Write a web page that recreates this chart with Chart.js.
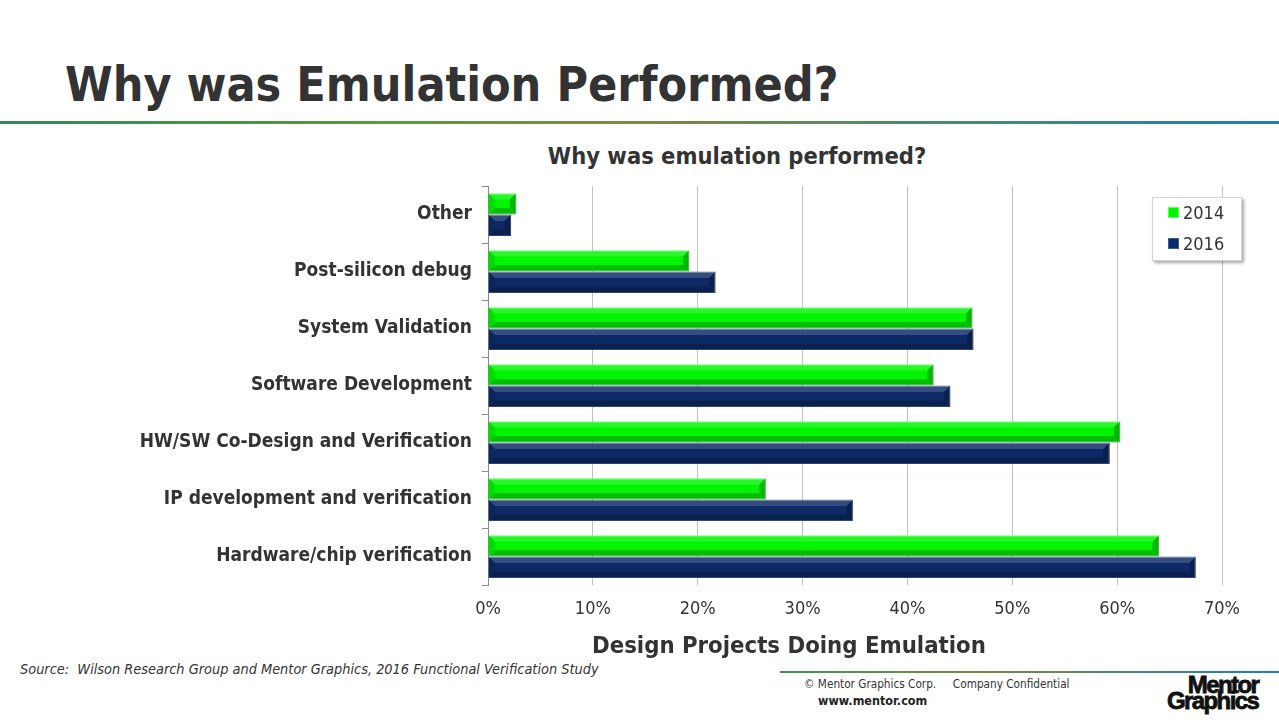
<!DOCTYPE html>
<html>
<head>
<meta charset="utf-8">
<script src="https://cdn.jsdelivr.net/npm/chart.js@4.4.0/dist/chart.umd.min.js"></script>
<style>
  body { margin: 0; width: 1279px; height: 720px; background: #fff; position: relative; overflow: hidden;
         font-family: 'DejaVu Sans Condensed', 'DejaVu Sans', sans-serif; color: #333; }
  .abs { position: absolute; white-space: nowrap; }
  #pageTitle { left: 65px; top: 55px; font-size: 48px; font-weight: bold; line-height: 58px; }
  #topLine { left: 0; top: 121px; width: 1279px; height: 3px;
             background: linear-gradient(to right, #2e8b5a, #5a9a3a 30%, #7a8a3e 50%, #4a8a70 75%, #1a80b4); }
  #chartTitle { left: 737px; top: 142px; transform: translateX(-50%); font-size: 23.5px; font-weight: bold; }
  #chartBox { left: 100px; top: 135px; width: 1174px; height: 500px; }
  #xTitle { left: 592px; top: 631px; font-size: 23.7px; font-weight: bold; }
  #legend { left: 1152px; top: 197px; width: 88px; height: 62px; background: #fff;
            border: 1px solid #d4d4d4; box-shadow: 2px 2px 3px rgba(0,0,0,0.35); }
  .item { position: absolute; left: 15px; font-size: 18px; line-height: 20px; }
  .item span { display: inline-block; width: 9px; height: 9px; margin-right: 4px; vertical-align: 1px; }
  #source { left: 20px; top: 661px; font-size: 14.4px; font-style: italic; }
  #footLine { left: 780px; top: 671px; width: 499px; height: 2px;
              background: linear-gradient(to right, #3a9a50, #7a8a3e 40%, #1a80b4); }
  #copy { left: 804px; top: 677px; font-size: 11.7px; }
  #web { left: 818px; top: 693px; font-size: 12.5px; font-weight: bold; color: #222; }
  #logo { left: 1167px; top: 677px; font-family: 'Liberation Sans', Arial, sans-serif; font-weight: bold;
          font-size: 24px; line-height: 16px; color: #111; letter-spacing: -1.6px; text-align: right;
          -webkit-text-stroke: 0.8px #111; }
</style>
</head>
<body>
<div id="pageTitle" class="abs">Why was Emulation Performed?</div>
<div id="topLine" class="abs"></div>
<div id="chartTitle" class="abs">Why was emulation performed?</div>
<div id="chartBox" class="abs"><canvas id="chart"></canvas></div>
<div id="xTitle" class="abs">Design Projects Doing Emulation</div>
<div id="legend" class="abs"></div>
<div id="source" class="abs">Source:&nbsp; Wilson Research Group and Mentor Graphics, 2016 Functional Verification Study</div>
<div id="footLine" class="abs"></div>
<div id="copy" class="abs">© Mentor Graphics Corp.&nbsp;&nbsp;&nbsp;&nbsp; Company Confidential</div>
<div id="web" class="abs">www.mentor.com</div>
<div id="logo" class="abs">&nbsp;Mentor<br>Graphics</div>
<script>
let categories = ['Other', 'Post-silicon debug', 'System Validation', 'Software Development',
                  'HW/SW Co-Design and Verification', 'IP development and verification', 'Hardware/chip verification'];
let seriesNames = ['2014', '2016'];
let values2014 = [2.7, 19.2, 46.2, 42.5, 60.3, 26.5, 64.0];
let values2016 = [2.2, 21.7, 46.3, 44.1, 59.3, 34.8, 67.5];
let xTicks = [0, 10, 20, 30, 40, 50, 60, 70];

let fillColors = ['#00f500', '#0e2a66'];
let edgeColors = ['#5cff5c', '#3a5a9a'];
let fontFam = "'DejaVu Sans Condensed', 'DejaVu Sans', sans-serif";

// picture-frame bevel drawn over each bar (light top, dark bottom and ends)
let bevel = {
    id: 'bevel',
    afterDatasetsDraw(chart) {
        let ctx = chart.ctx;
        chart.data.datasets.forEach(function(ds, i) {
            chart.getDatasetMeta(i).data.forEach(function(bar) {
                let p = bar.getProps(['x', 'y', 'base', 'height'], true);
                let t = p.y - p.height / 2, h = p.height, l = p.base, r = p.x;
                let b = Math.min(h * 0.3, (r - l) / 2);
                function quad(pts, col) {
                    ctx.fillStyle = col;
                    ctx.beginPath();
                    ctx.moveTo(pts[0], pts[1]);
                    for (let k = 2; k < pts.length; k += 2) ctx.lineTo(pts[k], pts[k + 1]);
                    ctx.closePath();
                    ctx.fill();
                }
                ctx.save();
                quad([l, t, r, t, r - b, t + b, l + b, t + b], 'rgba(255,255,255,0.16)');
                quad([l, t + h, r, t + h, r - b, t + h - b, l + b, t + h - b], 'rgba(0,0,0,0.22)');
                quad([l, t, l + b, t + b, l + b, t + h - b, l, t + h], 'rgba(0,0,0,0.1)');
                quad([r, t, r, t + h, r - b, t + h - b, r - b, t + b], 'rgba(0,0,0,0.25)');
                ctx.restore();
            });
        });
    }
};

let chart = new Chart(document.getElementById('chart'), {
    type: 'bar',
    data: {
        labels: categories,
        datasets: [
            { label: seriesNames[0], data: values2014, backgroundColor: fillColors[0], borderColor: edgeColors[0], borderWidth: 1 },
            { label: seriesNames[1], data: values2016, backgroundColor: fillColors[1], borderColor: edgeColors[1], borderWidth: 1 }
        ]
    },
    options: {
        indexAxis: 'y',
        responsive: true,
        maintainAspectRatio: false,
        animation: false,
        categoryPercentage: 0.75,
        barPercentage: 1,
        layout: { padding: { top: 51, right: 52, bottom: 0 } },
        plugins: {
            legend: { display: false },
            tooltip: { enabled: false }
        },
        scales: {
            x: {
                min: 0, max: 70,
                afterBuildTicks(s) { s.ticks = xTicks.map(function(v) { return { value: v }; }); },
                afterFit(s) { s.height = 50; },
                ticks: { callback: function(v) { return v + '%'; }, color: '#333', padding: 14,
                         font: { family: fontFam, size: 18 } },
                grid: { color: '#c0c0c0', lineWidth: 1, tickLength: 0 },
                border: { display: false }
            },
            y: {
                afterFit(s) { s.width = 388; },
                ticks: { color: '#333', padding: 10,
                         font: { family: fontFam, size: 19, weight: 'bold' } },
                grid: { offset: true, drawOnChartArea: false, color: '#8a8a8a', tickLength: 6 },
                border: { display: true, color: '#8a8a8a', width: 1 }
            }
        }
    },
    plugins: [bevel]
});

let legendBox = document.getElementById('legend');
seriesNames.forEach(function(name, i) {
    let d = document.createElement('div');
    d.className = 'item';
    d.style.top = (5 + i * 31) + 'px';
    d.innerHTML = '<span style="background:' + fillColors[i] + ';border:1px solid ' + edgeColors[i] + '"></span>' + name;
    legendBox.appendChild(d);
});
</script>
</body>
</html>
